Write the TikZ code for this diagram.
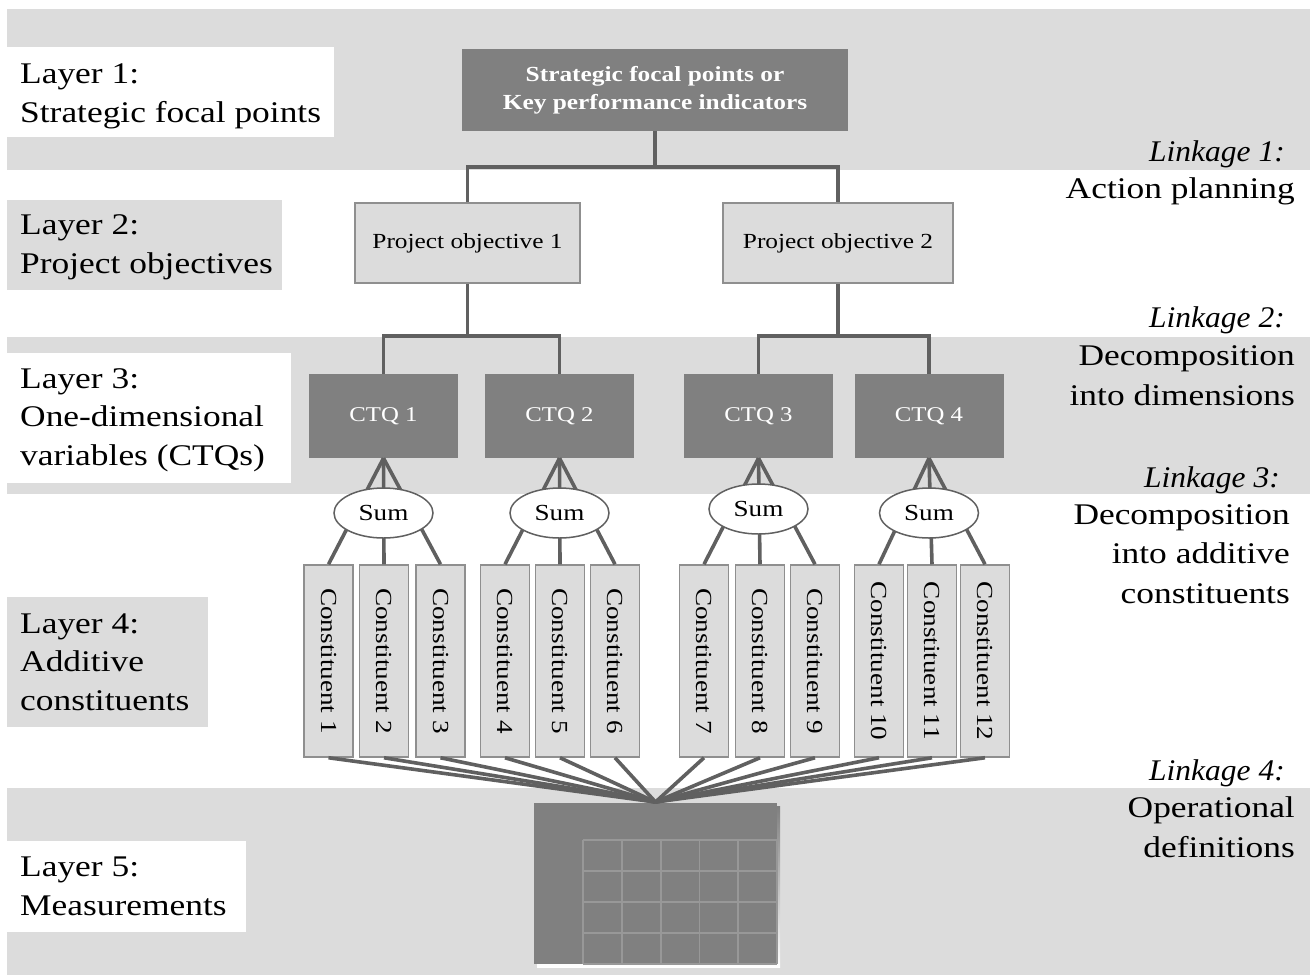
\documentclass[tikz,border=0pt]{standalone}
\usepackage{fontspec}
\setmainfont{Liberation Serif}[FakeStretch=1.18,
  ItalicFeatures={FakeStretch=1.05}]
\usetikzlibrary{shapes.geometric}
\definecolor{band}{HTML}{DCDCDC}
\definecolor{dark}{HTML}{808080}
\definecolor{wire}{HTML}{606060}
\definecolor{edge}{HTML}{8F8F8F}
\definecolor{shade}{HTML}{8A8A8A}
\definecolor{cell}{HTML}{989898}
\tikzset{
  bigfont/.style={font=\fontsize{30}{38.5}\selectfont},
  layertext/.style={bigfont, anchor=base west, align=left, inner sep=0pt},
  linkhead/.style={font=\fontsize{30}{38.5}\selectfont\itshape, anchor=base east, inner sep=0pt},
  linkbody/.style={font=\fontsize{30}{39.5}\selectfont, anchor=base east, align=right, inner sep=0pt},
  darkbox/.style={fill=dark, draw=none, text=white, inner sep=0pt,
    font=\fontsize{21}{28}\selectfont},
  lightbox/.style={fill=band, draw=edge, line width=1.5pt, inner sep=0pt,
    font=\fontsize{21.5}{26}\selectfont},
  constbox/.style={lightbox, rotate=-90, minimum width=192pt, minimum height=49pt,
    font=\fontsize{23}{26}\selectfont},
  ctqbox/.style={darkbox, minimum width=149pt, minimum height=84pt},
  sumnode/.style={ellipse, fill=white, draw=wire, line width=1.5pt, inner sep=0pt,
    minimum width=99pt, minimum height=50pt, font=\fontsize{23}{24}\selectfont},
  link/.style={draw=wire, line width=3.6pt},
  gridline/.style={draw=cell, line width=1.8pt}
}
\begin{document}
\begin{tikzpicture}[x=1pt, y=-1pt]
\useasboundingbox (0,0) rectangle (1310,978);
\fill[white] (0,0) rectangle (1310,978);

% horizontal bands of the five layers
\fill[band] (7,9) rectangle (1310,170);
\fill[band] (7,337) rectangle (1310,494);
\fill[band] (7,788) rectangle (1310,975);

% panels behind the layer captions
\fill[white] (7,47) rectangle (334,137);
\fill[band] (7,200) rectangle (282,290);
\fill[white] (7,353) rectangle (291,483);
\fill[band] (7,597) rectangle (208,727);
\fill[white] (7,841) rectangle (246,932);

% layer captions (anchored at the baseline of their last line)
\node[layertext] (lay1) at (20,122) {Layer 1:\\Strategic focal points};
\node[layertext] (lay2) at (20,273) {Layer 2:\\Project objectives};
\node[layertext] (lay3) at (20,465) {Layer 3:\\One-dimensional\\variables (CTQs)};
\node[layertext] (lay4) at (20,710) {Layer 4:\\Additive\\constituents};
\node[layertext] (lay5) at (20,915) {Layer 5:\\Measurements};

% linkage captions
\node[linkhead] (lk1) at (1285,161) {Linkage 1:};
\node[linkbody] (lk1b) at (1295,198) {Action planning};
\node[linkhead] (lk2) at (1285,327) {Linkage 2:};
\node[linkbody] (lk2b) at (1295,405) {Decomposition\\into dimensions};
\node[linkhead] (lk3) at (1280,487) {Linkage 3:};
\node[linkbody] (lk3b) at (1290,603) {Decomposition\\into additive\\constituents};
\node[linkhead] (lk4) at (1285,780) {Linkage 4:};
\node[linkbody] (lk4b) at (1295,857) {Operational\\definitions};

% layer 1 and 2
\node[darkbox, minimum width=386pt, minimum height=82pt, align=center,
  font=\fontsize{21.5}{28}\selectfont\bfseries] (kpi) at (655,90)
  {Strategic focal points or\\Key performance indicators};
\node[lightbox, minimum width=225pt, minimum height=80pt] (po1) at (467.5,243) {Project objective 1};
\node[lightbox, minimum width=230pt, minimum height=80pt] (po2) at (838,243) {Project objective 2};

% layer 3
\node[ctqbox] (ctq1) at (383.5,416) {CTQ 1};
\node[ctqbox] (ctq2) at (559.5,416) {CTQ 2};
\node[ctqbox] (ctq3) at (758.5,416) {CTQ 3};
\node[ctqbox] (ctq4) at (929,416) {CTQ 4};

% layer 4
\node[constbox] (c1) at (328.5,661) {Constituent 1};
\node[constbox] (c2) at (384,661) {Constituent 2};
\node[constbox] (c3) at (440.5,661) {Constituent 3};
\node[constbox] (c4) at (505,661) {Constituent 4};
\node[constbox] (c5) at (560,661) {Constituent 5};
\node[constbox] (c6) at (615,661) {Constituent 6};
\node[constbox] (c7) at (704,661) {Constituent 7};
\node[constbox] (c8) at (760,661) {Constituent 8};
\node[constbox] (c9) at (815,661) {Constituent 9};
\node[constbox] (c10) at (879,661) {Constituent 10};
\node[constbox] (c11) at (932,661) {Constituent 11};
\node[constbox] (c12) at (985,661) {Constituent 12};

% layer 5: measurement table with a slight drop shadow
\fill[shade] (537,806) rectangle (780,967);
\node[fill=dark, draw=none, minimum width=243pt, minimum height=161pt, inner sep=0pt]
  (meas) at (655.5,883.5) {};
\foreach \i in {0,...,5}
  \draw[gridline] (583+38.8*\i,840) -- (583+38.8*\i,964);
\foreach \j in {0,...,4}
  \draw[gridline] (583,840+31*\j) -- (777,840+31*\j);

% linkage 1
\coordinate (j1) at (655,167);
\draw[link] (kpi.south) -- (j1);
\draw[link] (po1.north) |- (j1) -| (po2.north);

% linkage 2
\coordinate (j2) at (po1.south |- 0,336);
\coordinate (j3) at (po2.south |- 0,336);
\draw[link] (po1.south) -- (j2);
\draw[link] (po2.south) -- (j3);
\draw[link] (ctq1.north) |- (j2) -| (ctq2.north);
\draw[link] (ctq3.north) |- (j3) -| (ctq4.north);

% linkage 3
\foreach \q/\a/\b/\c in {ctq1/c1/c2/c3, ctq2/c4/c5/c6, ctq3/c7/c8/c9, ctq4/c10/c11/c12}{
  \draw[link] (\q.south) -- (\a.west);
  \draw[link] (\q.south) -- (\b.west);
  \draw[link] (\q.south) -- (\c.west);
}
\node[sumnode] (s1) at (383.5,513) {Sum};
\node[sumnode] (s2) at (559.5,513) {Sum};
\node[sumnode] (s3) at (758.5,509) {Sum};
\node[sumnode] (s4) at (929,513) {Sum};

% linkage 4
\coordinate (hub) at (655.5,802);
\foreach \k in {1,...,12}
  \draw[link] (c\k.east) -- (hub);
\end{tikzpicture}
\end{document}
